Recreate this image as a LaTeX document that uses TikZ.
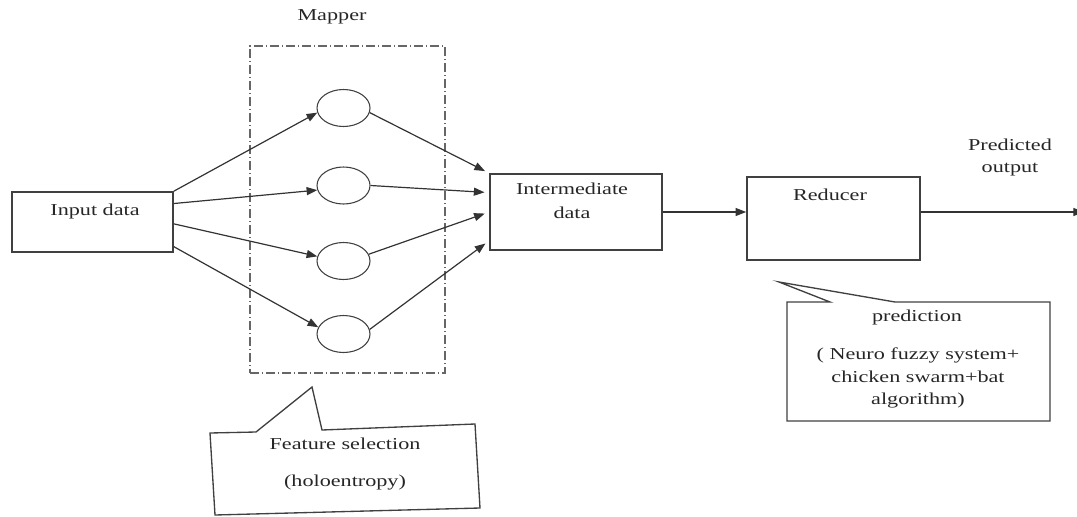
\documentclass[tikz,border=0pt]{standalone}
\usepackage{fontspec}
\setmainfont[FakeStretch=1.33]{Liberation Serif}
\usetikzlibrary{arrows.meta,shapes.geometric,calc}
\begin{document}
\begin{tikzpicture}[x=0.75pt,y=-0.75pt,
  every node/.style={font=\fontsize{12.5}{17}\selectfont, text=black!85},
  box/.style={draw=black!75, line width=1.2pt, rectangle, inner sep=0pt},
  neuron/.style={draw=black!75, line width=0.8pt, ellipse, minimum width=39.75pt, minimum height=27.75pt, inner sep=0pt},
  conn/.style={draw=black!80, line width=0.9pt, -{Triangle[length=8pt,width=6pt]}},
  mapperframe/.style={draw=black!60, line width=1pt, dash pattern=on 7pt off 2pt on 1pt off 2pt, rectangle, inner sep=0pt},
  callout/.style={draw=black!75, line width=1pt, line join=miter},
  lbl/.style={inner sep=0pt, align=center}
]
\useasboundingbox (0,0) rectangle (1077,517);
\clip (0,0) rectangle (1077,517);

% mapper frame
\node[mapperframe, minimum width=146.25pt, minimum height=245.25pt] (mapbox) at (347.5,209.5) {};
\node[lbl] (mapper) at (332,17) {Mapper};

% boxes
\node[box, minimum width=120.75pt, minimum height=45pt] (inp) at (92.5,222) {};
\node[lbl] (inplbl) at (95,211) {Input data};
\node[box, minimum width=129pt, minimum height=57pt] (mid) at (576,212) {};
\node[lbl, font=\fontsize{12.5}{18}\selectfont] (midlbl) at (572,201) {Intermediate\\data};
\node[box, minimum width=129.75pt, minimum height=62.25pt] (red) at (833.5,218.5) {};
\node[lbl] (redlbl) at (830,195) {Reducer};
\node[lbl, font=\fontsize{12.5}{16.5}\selectfont] (predout) at (1010,157) {Predicted\\output};

% neurons
\node[neuron] (c1) at (343.5,108) {};
\node[neuron] (c2) at (343.5,185.5) {};
\node[neuron] (c3) at (343.5,261) {};
\node[neuron] (c4) at (343.5,334) {};

% connectors input -> neurons
\draw[conn] (inp.north east) -- (c1.190);
\draw[conn] ($(inp.north east)!0.2!(inp.south east)$) -- (c2.190);
\draw[conn] ($(inp.north east)!0.53!(inp.south east)$) -- (c3.170);
\draw[conn] ($(inp.north east)!0.9!(inp.south east)$) -- (c4.165);

% neurons -> intermediate
\draw[conn, shorten >=3.5pt] (c1.350) -- (mid.north west);
\draw[conn, shorten >=3.5pt] (c2.east) -- ($(mid.north west)!0.25!(mid.south west)$);
\draw[conn, shorten >=3.5pt] (c3.15) -- ($(mid.north west)!0.5!(mid.south west)$);
\draw[conn, shorten >=3.5pt] (c4.10) -- ($(mid.north west)!0.87!(mid.south west)$);

% intermediate -> reducer -> output
\draw[conn] (mid.east) -- (mid.east -| red.west);
\coordinate (outend) at (1084,212);
\draw[conn] (mid.east -| red.east) -- (outend);

% callout: prediction
\draw[callout] (787,302) -- (830,302) -- (779,282) -- (895,302) -- (1050,302) -- (1050,421) -- (787,421) -- cycle;
\node[lbl] (predlbl) at (917,317) {prediction};
\node[lbl] (algo) at (918,378) {( Neuro fuzzy system+\\chicken swarm+bat\\algorithm)};

% callout: feature selection
\draw[callout] (210,433) -- (256,432) -- (312,387) -- (322,430) -- (475,424) -- (480,508) -- (215,515) -- cycle;
\node[lbl] (fs) at (345,444) {Feature selection};
\node[lbl] (holo) at (345,483) {(holoentropy)};
\end{tikzpicture}
\end{document}
